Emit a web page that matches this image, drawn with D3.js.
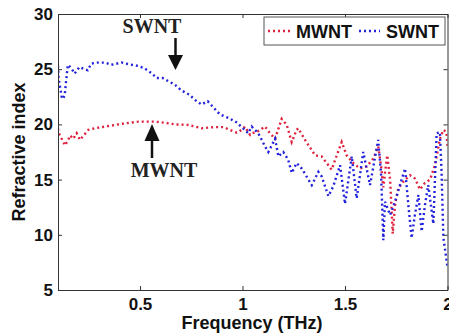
<!DOCTYPE html>
<html><head><meta charset="utf-8">
<script src="https://cdn.jsdelivr.net/npm/d3@7"></script>
<style>html,body{margin:0;padding:0;background:#fff;}svg{display:block;}</style>
</head><body>
<script>
// ---- data ----
const swntX = [0.100,0.103,0.110,0.118,0.125,0.133,0.140,0.148,0.165,0.181,0.205,0.229,0.245,0.262,0.29,0.33,0.36,0.41,0.46,0.49,0.52,0.56,0.58,0.61,0.64,0.67,0.70,0.74,0.77,0.80,0.83,0.86,0.89,0.93,0.97,1.00,1.028,1.045,1.077,1.110,1.126,1.159,1.175,1.199,1.223,1.240,1.264,1.289,1.338,1.370,1.386,1.419,1.443,1.476,1.500,1.533,1.557,1.589,1.622,1.662,1.676,1.687,1.695,1.720,1.744,1.768,1.793,1.809,1.825,1.841,1.858,1.874,1.890,1.906,1.931,1.947,1.963,1.971,1.980,1.996,2.0];
const swntY = [25.3,24.2,23.4,22.5,22.3,22.7,24.0,25.4,25.1,24.6,25.2,25.0,24.9,25.5,25.6,25.6,25.4,25.6,25.4,25.3,25.1,24.6,24.2,24.2,23.9,23.6,23.1,22.7,22.2,21.8,22.1,21.5,20.9,20.6,20.2,19.7,19.2,19.8,19.2,18.0,17.5,18.7,17.1,17.5,16.8,15.6,16.5,16.0,14.5,15.7,15.3,13.5,14.4,16.3,12.8,17.1,13.3,17.5,14.5,18.6,15.5,9.5,13.0,11.8,13.0,14.5,16.0,12.7,9.7,11.8,13.6,10.3,12.7,14.5,11.0,19.2,19.3,15.7,9.7,7.6,7.0];
const mwntX = [0.100,0.101,0.118,0.134,0.150,0.159,0.175,0.191,0.207,0.248,0.280,0.329,0.378,0.427,0.492,0.573,0.622,0.671,0.736,0.801,0.858,0.906,0.972,0.996,1.012,1.037,1.045,1.069,1.110,1.134,1.159,1.191,1.216,1.240,1.264,1.272,1.305,1.354,1.386,1.419,1.435,1.460,1.484,1.508,1.540,1.573,1.606,1.638,1.662,1.676,1.687,1.695,1.706,1.720,1.733,1.744,1.760,1.784,1.817,1.841,1.866,1.890,1.915,1.939,1.963,1.980,1.995,2.0];
const mwntY = [19.6,19.3,18.7,18.1,18.6,19.0,18.7,19.2,18.6,19.5,19.65,19.8,19.95,20.1,20.25,20.25,20.15,20.0,19.95,19.65,19.75,19.75,19.25,19.5,19.8,19.05,19.2,19.3,19.8,19.2,18.7,20.5,19.95,18.4,19.5,19.65,18.6,17.2,17.1,16.3,15.9,17.2,18.4,17.2,16.5,16.0,16.2,16.9,18.0,16.2,14.3,15.6,17.2,15.0,10.1,12.7,14.2,14.8,15.4,15.1,14.1,14.7,15.0,16.3,18.7,19.5,19.3,18.0];
const xTicks = [0.5, 1, 1.5, 2];
const xTickLabels = ["0.5", "1", "1.5", "2"];
const yTicks = [5, 10, 15, 20, 25, 30];
const seriesNames = ["MWNT", "SWNT"];
const seriesColors = ["#e0203c", "#2222dd"];

// ---- layout ----
const W = 449, H = 336;
const m = {left: 58, top: 14, right: 1.5, bottom: 46};
const svg = d3.select("body").append("svg").attr("width", W).attr("height", H);
const x = d3.scaleLinear().domain([0.1, 2]).range([m.left, W - m.right]);
const y = d3.scaleLinear().domain([5, 30]).range([H - m.bottom, m.top]);
const font = "'Liberation Sans', Arial, sans-serif";
const serif = "'Liberation Serif', 'Times New Roman', serif";

svg.append("clipPath").attr("id", "c").append("rect")
  .attr("x", m.left).attr("y", m.top).attr("width", x(2) - m.left).attr("height", y(5) - m.top);

const line = d3.line().x(d => x(d[0])).y(d => y(d[1]));
const mw = d3.zip(mwntX, mwntY), sw = d3.zip(swntX, swntY);
const gLines = svg.append("g").attr("clip-path", "url(#c)");
[[mw, seriesColors[0]], [sw, seriesColors[1]]].forEach(([d, c]) => {
  gLines.append("path").datum(d).attr("d", line).attr("fill", "none")
    .attr("stroke", c).attr("stroke-width", 2.4).attr("stroke-dasharray", "2,3");
});

// axes (box)
const ax = "#333";
const gBottom = svg.append("g").attr("transform", `translate(0,${y(5)})`)
  .call(d3.axisBottom(x).tickValues(xTicks).tickFormat((d, i) => xTickLabels[i]).tickSizeInner(-4).tickSizeOuter(0).tickPadding(8));
const gLeft = svg.append("g").attr("transform", `translate(${m.left},0)`)
  .call(d3.axisLeft(y).tickValues(yTicks).tickFormat(d3.format("d")).tickSizeInner(-4).tickSizeOuter(0).tickPadding(5));
const gTop = svg.append("g").attr("transform", `translate(0,${y(30)})`)
  .call(d3.axisTop(x).tickValues(xTicks).tickFormat("").tickSizeInner(-4).tickSizeOuter(0));
const gRight = svg.append("g").attr("transform", `translate(${x(2)},0)`)
  .call(d3.axisRight(y).tickValues(yTicks).tickFormat("").tickSizeInner(-4).tickSizeOuter(0));
[gBottom, gLeft, gTop, gRight].forEach(g => {
  g.selectAll("path.domain").attr("stroke", ax).attr("stroke-width", 1);
  g.selectAll(".tick line").attr("stroke", ax);
  g.selectAll("text").attr("font-family", font).attr("font-weight", "bold").attr("font-size", 17).attr("fill", "#111");
});

// axis titles
svg.append("text").attr("x", 252).attr("y", 329).attr("text-anchor", "middle")
  .attr("font-family", font).attr("font-weight", "bold").attr("font-size", 18).attr("fill", "#111")
  .text("Frequency (THz)");
svg.append("text").attr("transform", "translate(25,152) rotate(-90)").attr("text-anchor", "middle")
  .attr("font-family", font).attr("font-weight", "bold").attr("font-size", 18).attr("fill", "#111")
  .text("Refractive index");

// legend
const lg = svg.append("g");
lg.append("rect").attr("x", 264).attr("y", 17).attr("width", 181).attr("height", 28)
  .attr("fill", "#fff").attr("stroke", "#555").attr("stroke-width", 1);
const legendItems = [{x0: 268, x1: 290, tx: 296}, {x0: 359, x1: 380, tx: 386}];
legendItems.forEach((it, i) => {
  lg.append("line").attr("x1", it.x0).attr("x2", it.x1).attr("y1", 31).attr("y2", 31)
    .attr("stroke", seriesColors[i]).attr("stroke-width", 2.4).attr("stroke-dasharray", "2,3");
  lg.append("text").attr("x", it.tx).attr("y", 37.5).attr("font-family", font).attr("font-weight", "bold")
    .attr("font-size", 18).attr("fill", "#111").text(seriesNames[i]);
});

// annotations
svg.append("text").attr("x", 152).attr("y", 33).attr("text-anchor", "middle").attr("font-family", serif)
  .attr("font-weight", "bold").attr("font-size", 20).attr("fill", "#222").text("SWNT");
svg.append("text").attr("x", 164).attr("y", 177).attr("text-anchor", "middle").attr("font-family", serif)
  .attr("font-weight", "bold").attr("font-size", 20).attr("fill", "#222").text("MWNT");
// SWNT arrow (down)
svg.append("line").attr("x1", 175.5).attr("x2", 175.5).attr("y1", 38).attr("y2", 57).attr("stroke", "#111").attr("stroke-width", 2.5);
svg.append("path").attr("d", "M168,55 L183,55 L175.5,70 Z").attr("fill", "#111");
// MWNT arrow (up)
svg.append("line").attr("x1", 152).attr("x2", 152).attr("y1", 139).attr("y2", 158).attr("stroke", "#111").attr("stroke-width", 2.5);
svg.append("path").attr("d", "M144.5,141 L159.5,141 L152,124 Z").attr("fill", "#111");
</script>
</body></html>
